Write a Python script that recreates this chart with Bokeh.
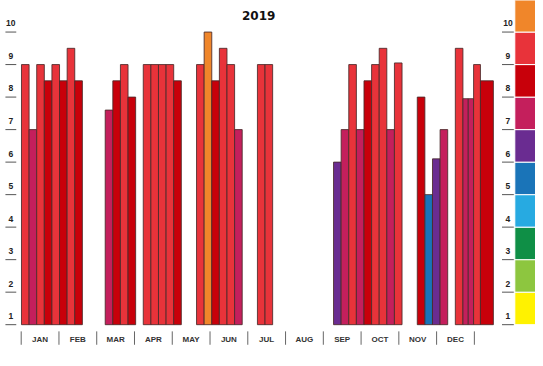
import math
from bokeh.plotting import figure
from bokeh.models import Range1d
from bokeh.core.properties import value
from bokeh.embed import file_html
from bokeh.resources import INLINE

# ---------------- data ----------------
year_label = "2019"
months = ["JAN", "FEB", "MAR", "APR", "MAY", "JUN",
          "JUL", "AUG", "SEP", "OCT", "NOV", "DEC"]

# bars: left / right edge in week-slot units, and index value
bar_left = [0, 1, 2, 3, 4, 5, 6, 7,
            11, 12, 13, 14,
            16, 17, 18, 19, 20,
            23, 24, 25, 26, 27, 28,
            31, 32,
            41, 42, 43, 44, 45, 46, 47, 48, 49,
            52, 53, 54, 55,
            57, 58, 58.7, 59.4, 60.3]
bar_right = [1, 2, 3, 4, 5, 6, 7, 8,
             12, 13, 14, 15,
             17, 18, 19, 20, 21,
             24, 25, 26, 27, 28, 29,
             32, 33,
             42, 43, 44, 45, 46, 47, 48, 49, 50,
             53, 54, 55, 56,
             58, 58.7, 59.4, 60.3, 62]
bar_value = [9, 7, 9, 8.5, 9, 8.5, 9.5, 8.5,
             7.6, 8.5, 9, 8,
             9, 9, 9, 9, 8.5,
             9, 10, 8.5, 9.5, 9, 7,
             9, 9,
             6, 7, 9, 7, 8.5, 9, 9.5, 7, 9.05,
             8, 5, 6.1, 7,
             9.5, 7.95, 7.95, 9, 8.5]

scale_levels = [1, 2, 3, 4, 5, 6, 7, 8, 9, 10]
scale_colors = ["#fff200", "#8dc63f", "#0f8f46", "#27aae1", "#1a74b8",
                "#6a2c91", "#c41f5c", "#c8000a", "#e8333a", "#f0862a"]

# ---------------- layout (reference-canvas pixels, scaled into the figure) ----------------
FIG_W, FIG_H = 535, 350
REF_W, REF_H = 543, 366
X0, SLOT = 21.3, 7.725          # x of slot 0, px per slot
M0, MONTH = 21.0, 38.33         # x of month 0 boundary, px per month
Y1, UNIT = 339.0, 34.0          # y of value 1, px per unit


def ux(px):
    return (px - X0) / SLOT


def mx(px):
    return (px - M0) / MONTH


def vy(py):
    return 1 + (Y1 - py) / UNIT


p = figure(width=FIG_W, height=FIG_H, output_backend="svg",
           toolbar_location=None, min_border=0,
           x_axis_type=None, y_axis_type=None,
           x_range=Range1d(ux(0), ux(REF_W)),
           y_range=Range1d(vy(REF_H), vy(0)))
p.extra_x_ranges = {"months": Range1d(mx(0), mx(REF_W))}
p.outline_line_color = None
p.xgrid.visible = False
p.ygrid.visible = False
p.background_fill_color = "white"
p.border_fill_color = "white"

# bars
bar_colors = [scale_colors[min(int(math.floor(v)), 10) - 1] for v in bar_value]
p.quad(left=bar_left, right=bar_right, bottom=[1] * len(bar_value), top=bar_value,
       fill_color=bar_colors, line_color="#4a2a2a", line_alpha=0.85, line_width=1)

# left scale: tick lines + labels above them
lbl = [str(v) for v in scale_levels]
p.segment(x0=[ux(5)] * 10, x1=[ux(16)] * 10, y0=scale_levels, y1=scale_levels,
          line_color="#555555", line_width=1)
p.text(x=[ux(10.5)] * 10, y=[v + 9 / UNIT for v in scale_levels], text=lbl,
       text_align="center", text_baseline="middle",
       text_font=value("Liberation Sans"), text_font_style="bold",
       text_font_size="8.5px", text_color="#222222")

# right colour key
p.quad(left=[ux(522)] * 10, right=[ux(545)] * 10,
       bottom=scale_levels, top=[v + 1 for v in scale_levels],
       fill_color=scale_colors, line_color="white", line_width=1)
p.segment(x0=[ux(509)] * 10, x1=[ux(521)] * 10, y0=scale_levels, y1=scale_levels,
          line_color="#555555", line_width=1)
p.text(x=[ux(515)] * 10, y=[v + 9 / UNIT for v in scale_levels], text=lbl,
       text_align="center", text_baseline="middle",
       text_font=value("Liberation Sans"), text_font_style="bold",
       text_font_size="8.5px", text_color="#222222")

# month separators and labels
bounds = list(range(len(months) + 1))
p.segment(x0=bounds, x1=bounds, y0=[vy(346)] * len(bounds), y1=[vy(360)] * len(bounds),
          line_color="#666666", line_width=1, x_range_name="months")
p.text(x=[i + 0.5 for i in range(len(months))], y=[vy(354)] * len(months), text=months,
       text_align="center", text_baseline="middle",
       text_font=value("Liberation Sans"), text_font_style="bold",
       text_font_size="8px", text_color="#333333", x_range_name="months")

# title
p.text(x=[mx(262)], y=[vy(15.5)], text=[year_label],
       text_align="center", text_baseline="middle",
       text_font=value("DejaVu Sans"), text_font_style="bold",
       text_font_size="12px", text_color="#111111", x_range_name="months")

open("out.html", "w").write(file_html(p, INLINE))
